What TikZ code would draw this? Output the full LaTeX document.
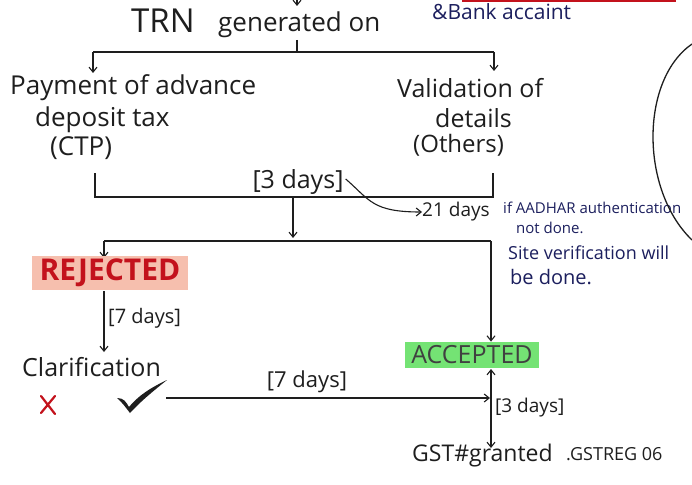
\documentclass[tikz,border=0pt]{standalone}
\usepackage{fontspec}
\setmainfont{Open Sans}
\usetikzlibrary{arrows.meta}
\definecolor{inkc}{HTML}{1E1E1E}
\definecolor{bluec}{HTML}{1C1F5E}
\definecolor{redc}{HTML}{C3121C}
\definecolor{pinkc}{HTML}{F6BFAE}
\definecolor{greenc}{HTML}{74E374}
\begin{document}
\begin{tikzpicture}[x=1pt,y=-1pt,
  ln/.style={draw=inkc, line width=1.1pt},
  arr/.style={ln,-{Straight Barb[length=5pt,width=8pt]}},
  txt/.style={inner sep=0pt, text=inkc},
  fs/.style={font=\fontsize{#1}{#1}\selectfont}]
\useasboundingbox (0,0) rectangle (692,484);
\fill[white] (0,0) rectangle (692,484);

% top
\coordinate (t0) at (297,-6);
\coordinate (t1) at (297,6);
\draw[arr] (t0) -- (t1);
\node[txt,fs=33] (trn) at (163,21) {TRN};
\node[txt,fs=26,anchor=west] (gen) at (218,25) {generated on};
\node[txt,fs=21,text=bluec,anchor=west] (bank) at (432,12) {\&Bank accaint};
\coordinate (r0) at (462,1);
\coordinate (r1) at (676,1);
\draw[redc,line width=2pt] (r0) -- (r1);

% first split
\coordinate (s0) at (297,40);
\coordinate (s1) at (297,52);
\coordinate (hL) at (93,52);
\coordinate (hR) at (494,52);
\coordinate (aL) at (93,73);
\coordinate (aR) at (494,71);
\draw[ln] (s0) -- (s1);
\draw[ln] (hL) -- (hR);
\draw[arr] (hL) -- (aL);
\draw[arr] (hR) -- (aR);

\node[txt,fs=26,anchor=west] (pay1) at (10,88) {Payment of advance};
\node[txt,fs=26,anchor=west] (pay2) at (35,120) {deposit tax};
\node[txt,fs=26,anchor=west] (pay3) at (50,148) {(CTP)};
\node[txt,fs=25,anchor=west] (val1) at (397,88) {Validation of};
\node[txt,fs=25,anchor=west] (val2) at (435,118) {details};
\node[txt,fs=24,anchor=west] (val3) at (413,145) {(Others)};

% bracket
\coordinate (bL0) at (95,173);
\coordinate (bL1) at (95,197);
\coordinate (bR1) at (493,197);
\coordinate (bR0) at (493,173);
\draw[ln] (bL0) -- (bL1) -- (bR1) -- (bR0);
\node[txt,fs=25] (three) at (298,182) {[3 days]};
\coordinate (bm) at (293,197);
\coordinate (bm1) at (293,238);
\draw[arr] (bm) -- (bm1);

% 21 days
\node[txt,fs=19,anchor=west] (d21) at (422,212) {21 days};
\draw[arr] (three.east) ++(2,-3) coordinate (c0) .. controls (370,200) and (372,212) .. (d21.west);
\node[txt,fs=15,text=bluec,anchor=west] (bl1) at (503,208) {if AADHAR authentication};
\node[txt,fs=15,text=bluec,anchor=west] (bl2) at (516,228) {not done.};
\node[txt,fs=18,text=bluec,anchor=west] (bl3) at (508,253) {Site verification will};
\node[txt,fs=20,text=bluec,anchor=west] (bl4) at (510,277) {be done.};

% second split
\coordinate (gL) at (104,241);
\coordinate (gR) at (491,241);
\coordinate (gLa) at (104,258);
\draw[ln] (gL) -- (gR);
\draw[arr] (gL) -- (gLa);

\node[fill=pinkc,inner xsep=8pt,inner ysep=3pt,text=redc,font=\fontsize{30}{30}\selectfont\bfseries] (rej) at (110,273) {REJECTED};
\node[txt,fs=20,anchor=west] (seven1) at (108,318) {[7 days]};
\coordinate (rj0) at (104,291);
\coordinate (rj1) at (104,352);
\draw[arr] (rj0) -- (rj1);

\node[txt,fs=25,anchor=west] (clar) at (22,367) {Clarification};
\draw[redc,line width=2.2pt,line cap=round] (41,396) -- (55,414) (55,396) -- (41,413);
\fill[inkc] (117,398) .. controls (124,398) and (126,402) .. (129,407)
  .. controls (138,396) and (150,388) .. (167,380)
  .. controls (152,392) and (140,402) .. (130,413)
  .. controls (126,408) and (122,402) .. (117,398) -- cycle;

\node[fill=greenc,inner xsep=6pt,inner ysep=4pt,text=inkc!85,fs=25] (acc) at (472,355) {ACCEPTED};
\draw[arr] (gR) -- (acc.north -| gR);
\coordinate (cl0) at (166,398);
\coordinate (cl1) at (490,398);
\draw[arr] (cl0) -- (cl1);
\node[txt,fs=22] (seven2) at (307,382) {[7 days]};

\coordinate (g0) at (491,369);
\coordinate (g1) at (491,448);
\draw[ln,{Straight Barb[length=5pt,width=8pt]}-{Straight Barb[length=5pt,width=8pt]}] (g0) -- (g1);
\node[txt,fs=19,anchor=west] (three2) at (495,408) {[3 days]};
\node[txt,fs=23,anchor=west] (gst) at (412,456) {GST\#granted};
\node[txt,fs=18,anchor=west] (gstr) at (566,454) {.GSTREG 06};

% arc on right
\coordinate (e0) at (692,44);
\coordinate (e1) at (692,240);
\draw[ln,line width=1.3pt] (e0) .. controls (640,80) and (640,190) .. (e1);
\end{tikzpicture}
\end{document}
